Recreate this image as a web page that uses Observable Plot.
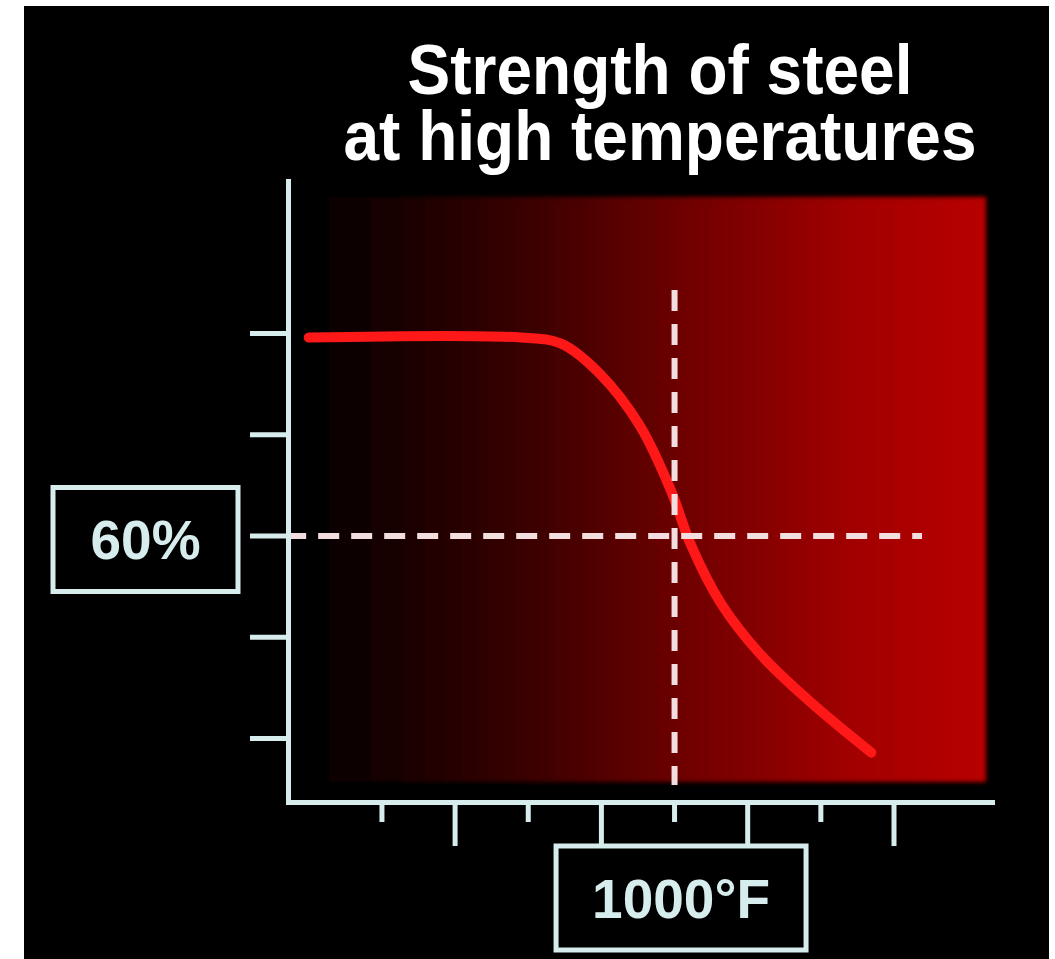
<!DOCTYPE html>
<html>
<head>
<meta charset="utf-8">
<script src="https://cdn.jsdelivr.net/npm/d3@7"></script>
<script src="https://cdn.jsdelivr.net/npm/@observablehq/plot@0.6"></script>
<style>
  html, body { margin: 0; padding: 0; background: #ffffff; width: 1055px; height: 959px; overflow: hidden; }
  #bg { position: absolute; left: 24px; top: 6px; width: 1025px; height: 953px; background: #000000; }
  #title { position: absolute; left: 0; top: 37px; width: 1320px; text-align: center; color: #ffffff;
        font-family: "Liberation Sans", Arial, sans-serif; font-weight: bold; font-size: 64px;
        line-height: 60px; white-space: nowrap; transform: scaleY(1.1); transform-origin: 50% 0; }
  #chart { position: absolute; left: 0; top: 0; }
</style>
</head>
<body>
<div id="bg"></div>
<div id="title"></div>
<div id="chart"></div>
<script>
// ---- data ----
const titleLines = ["Strength of steel", "at high temperatures"];
const temps    = [0, 580, 690, 795, 905, 990, 1045, 1125, 1235, 1370, 1538];
const strength = [99.2, 99.2, 98, 92.1, 81.8, 69, 58.2, 46.9, 36.6, 27.3, 17.2];
const yTicks = [20, 40, 60, 80, 100];
const xTicksShort = [200, 600, 1000, 1400];
const xTicksLong = [400, 800, 1200, 1600];
const markTemp = 1000;        // °F
const markStrength = 60;      // %
const markTempLabel = "1000°F";
const markStrengthLabel = "60%";
const vGuide = [{x: 1000, y1: 108.5, y2: 10.7}];
const hGuide = [{y: 60, x1: -55, x2: 1678}];
const panel = [{x1: 38, x2: 1853, y1: 11.3, y2: 126.9}];

// ---- styles ----
const axisColor = "#d7ecec";
const guideColor = "#f2dede";
const curveColor = "#ff1818";

const titleEl = document.getElementById("title");
titleLines.forEach((s, i) => {
  if (i) titleEl.appendChild(document.createElement("br"));
  titleEl.appendChild(document.createTextNode(s));
});

const curve = temps.map((t, i) => ({t, s: strength[i]}));

function defs() {
  const g = d3.create("svg:g");
  const d = g.append("defs");
  const lg = d.append("linearGradient").attr("id", "panelGrad").attr("x1", 0).attr("x2", 1).attr("y1", 0).attr("y2", 0);
  [["0%", "#050000"], ["30%", "#380000"], ["55%", "#700000"], ["80%", "#a20000"], ["100%", "#b80000"]]
    .forEach(([o, c]) => lg.append("stop").attr("offset", o).attr("stop-color", c));
  const f = d.append("filter").attr("id", "soft").attr("x", "-5%").attr("y", "-5%").attr("width", "110%").attr("height", "110%");
  f.append("feGaussianBlur").attr("stdDeviation", 2);
  return g.node();
}

function boxedLabels(index, scales, values, dimensions) {
  const g = d3.create("svg:g")
    .attr("font-family", "'Liberation Sans', Arial, sans-serif")
    .attr("font-weight", "bold");
  const bottom = dimensions.height - dimensions.marginBottom;
  const cx = scales.x(markTemp) + 7;
  const bw = 250, bh = 104, top = bottom + 44;
  g.append("rect").attr("x", cx - bw / 2).attr("y", top).attr("width", bw).attr("height", bh)
    .attr("fill", "#000").attr("stroke", axisColor).attr("stroke-width", 5);
  g.append("text").attr("x", cx).attr("y", top + bh / 2).attr("dy", "0.36em")
    .attr("text-anchor", "middle").attr("font-size", 55).attr("fill", axisColor).text(markTempLabel);
  const cy = scales.y(markStrength) + 4;
  const lw = 185, lh = 104, lcx = 145.5;
  g.append("rect").attr("x", lcx - lw / 2).attr("y", cy - lh / 2).attr("width", lw).attr("height", lh)
    .attr("fill", "#000").attr("stroke", axisColor).attr("stroke-width", 5);
  g.append("text").attr("x", lcx).attr("y", cy).attr("dy", "0.36em")
    .attr("text-anchor", "middle").attr("font-size", 55).attr("fill", axisColor).text(markStrengthLabel);
  return g.node();
}

const chart = Plot.plot({
  width: 1055,
  height: 959,
  marginLeft: 288,
  marginRight: 63,
  marginTop: 181,
  marginBottom: 157,
  style: {background: "transparent", overflow: "visible"},
  x: {domain: [0, 1600], range: [308.3, 893.5]},
  y: {domain: [0, 100], range: [839.25, 333]},
  marks: [
    defs,
    Plot.rect(panel, {x1: "x1", x2: "x2", y1: "y1", y2: "y2", fill: "url(#panelGrad)"}),
    Plot.line(curve, {x: "t", y: "s", stroke: curveColor, strokeWidth: 10, curve: "catmull-rom", strokeLinecap: "round", strokeLinejoin: "round"}),
    Plot.ruleX(vGuide, {x: "x", y1: "y1", y2: "y2", stroke: guideColor, strokeWidth: 6, strokeDasharray: "21,13"}),
    Plot.ruleY(hGuide, {y: "y", x1: "x1", x2: "x2", stroke: guideColor, strokeWidth: 6, strokeDasharray: "21,12", strokeDashoffset: -30}),
    Plot.axisY(yTicks, {anchor: "left", tickSize: 38, tickFormat: () => "", stroke: axisColor, strokeWidth: 5, label: null}),
    Plot.axisX(xTicksShort, {anchor: "bottom", tickSize: 20, tickFormat: () => "", stroke: axisColor, strokeWidth: 5, label: null}),
    Plot.axisX(xTicksLong, {anchor: "bottom", tickSize: 44, tickFormat: () => "", stroke: axisColor, strokeWidth: 5, label: null}),
    Plot.frame({anchor: "left", stroke: axisColor, strokeWidth: 5, strokeLinecap: "square"}),
    Plot.frame({anchor: "bottom", stroke: axisColor, strokeWidth: 5, strokeLinecap: "square"}),
    boxedLabels
  ]
});
d3.select(chart).selectAll('[fill="url(#panelGrad)"]').attr("filter", "url(#soft)");
document.getElementById("chart").appendChild(chart);
</script>
</body>
</html>
